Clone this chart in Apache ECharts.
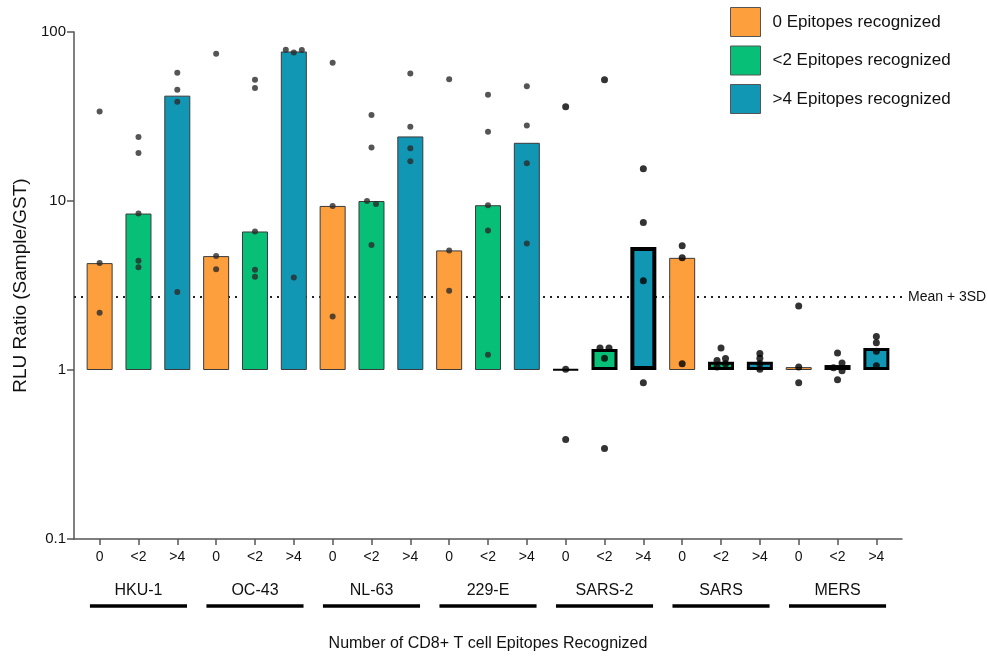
<!DOCTYPE html>
<html>
<head>
<meta charset="utf-8">
<script src="https://cdn.jsdelivr.net/npm/echarts@6/dist/echarts.min.js"></script>
<style>
  html, body { margin: 0; padding: 0; background: #fff; }
  #chart { width: 988px; height: 657px; }
</style>
</head>
<body>
<div id="chart"></div>
<script>
// ---- data ----
const groups = ['HKU-1', 'OC-43', 'NL-63', '229-E', 'SARS-2', 'SARS', 'MERS'];
const levels = ['0', '<2', '>4'];
const legendNames = ['0 Epitopes recognized', '<2 Epitopes recognized', '>4 Epitopes recognized'];

// bar heights (median) per group, one array per epitope level
const bars0 = [4.29, 4.72, 9.35, 5.10, 1.01, 4.61, 1.04];
const bars2 = [8.43, 6.60, 10.0, 9.44, 1.33, 1.12, 1.07];
const bars4 = [42.0, 76.7, 24.1, 22.1, 5.35, 1.12, 1.35];

// individual points per category (group x level, in order)
const points = [
  [33.8, 4.29, 2.18],
  [23.9, 19.2, 8.43, 4.43, 4.06],
  [57.4, 45.6, 38.6, 2.89],
  [74.4, 4.72, 3.94],
  [52.2, 46.7, 6.60, 3.92, 3.56],
  [78.5, 75.7, 78.2, 3.53],
  [65.8, 9.35, 2.07],
  [32.3, 20.7, 10.0, 9.6, 5.5],
  [56.9, 27.5, 20.5, 17.2],
  [52.5, 5.10, 2.94],
  [42.6, 25.7, 9.44, 6.69, 1.23],
  [47.7, 28.0, 16.7, 5.61],
  [36.1, 1.01, 0.388],
  [52.2, 1.35, 1.35, 1.175, 0.343],
  [15.5, 7.46, 3.37, 0.84],
  [5.43, 4.61, 1.09],
  [1.35, 1.14, 1.17, 1.09, 1.04],
  [1.25, 1.175, 1.09, 1.01],
  [2.39, 1.04, 0.84],
  [1.26, 1.10, 1.03, 0.99, 0.875],
  [1.58, 1.45, 1.29, 1.06]
];

const threshold = 2.7; // Mean + 3SD
const yTicks = [0.1, 1, 10, 100];

// ---- styles (not data) ----
const FONT = '"Liberation Sans", Arial, Helvetica, sans-serif';
const colors = ['#FE9F3E', '#08BF77', '#1197B3'];
// horizontal jitter of overlapping dots, in pixels, by category index
const jitter = {5: [-8, 0, 8, 0], 7: [0, 0, -4.5, 4.5, 0], 13: [0, -4.5, 4.5, 0, 0],
                16: [0, -4, 4.5, 4.5, -4], 19: [0, 4.5, -4, 4.5, 0]};
// thick black outlines for highlighted bars, by category index
const thick = {12: 2, 13: 3, 14: 4, 16: 3, 17: 3, 19: 3, 20: 3};

const barSets = [bars0, bars2, bars4];
const nCat = groups.length * levels.length;
const catIdx = [];
for (let i = 0; i < nCat; i++) catIdx.push(i);

const barSeries = barSets.map((arr, L) => ({
  name: legendNames[L],
  type: 'bar',
  barWidth: 26,
  barGap: '-100%',
  z: 2,
  itemStyle: { color: colors[L], borderColor: '#3a3a3a', borderWidth: 1 },
  data: arr.map((v, gi) => {
    const ci = gi * 3 + L;
    const item = { value: [ci, v] };
    if (thick[ci]) item.itemStyle = { borderColor: '#000', borderWidth: thick[ci] };
    return item;
  })
}));

const dotData = [];
points.forEach((arr, ci) => {
  arr.forEach((v, k) => {
    const dx = (jitter[ci] || [])[k] || 0;
    const late = ci >= 12;
    dotData.push({
      value: [ci, v],
      symbolOffset: [dx, 0],
      symbolSize: late ? 7 : 6,
      itemStyle: { color: late ? '#000' : '#2a2a2a' }
    });
  });
});

const chart = echarts.init(document.getElementById('chart'), null, { renderer: 'canvas' });

const option = {
  animation: false,
  backgroundColor: '#fff',
  textStyle: { fontFamily: FONT },
  grid: { left: 74, right: 86, top: 32, bottom: 116, containLabel: false },
  legend: {
    data: legendNames,
    orient: 'vertical',
    left: 730,
    top: 7,
    itemWidth: 30,
    itemHeight: 29,
    itemGap: 8.5,
    icon: 'rect',
    padding: 0,
    itemStyle: { borderColor: '#555', borderWidth: 1 },
    textStyle: { fontSize: 17, color: '#111', fontFamily: FONT, padding: [0, 0, 0, 7] }
  },
  xAxis: {
    type: 'value',
    min: -0.66,
    max: 20.66,
    name: 'Number of CD8+ T cell Epitopes Recognized',
    nameLocation: 'middle',
    nameGap: 97,
    nameTextStyle: { fontSize: 16, color: '#111', fontFamily: FONT },
    splitLine: { show: false },
    axisLine: { show: true, onZero: false, lineStyle: { color: '#555', width: 1.5 } },
    axisTick: { show: true, customValues: catIdx, length: 6, lineStyle: { color: '#555', width: 1.5 } },
    axisLabel: {
      customValues: catIdx,
      margin: 11,
      fontSize: 14,
      color: '#111',
      fontFamily: FONT,
      formatter: v => levels[Math.round(v) % 3]
    }
  },
  yAxis: {
    type: 'log',
    logBase: 10,
    min: 0.1,
    max: 100,
    interval: 1,
    name: 'RLU Ratio (Sample/GST)',
    nameLocation: 'middle',
    nameGap: 44,
    nameTextStyle: { fontSize: 19, color: '#111', fontFamily: FONT },
    splitLine: { show: false },
    minorTick: { show: false },
    axisLine: { show: true, onZero: false, lineStyle: { color: '#555', width: 1.5 } },
    axisTick: { show: true, length: 7, lineStyle: { color: '#555', width: 1.5 } },
    axisLabel: {
      margin: 8,
      fontSize: 15,
      color: '#111',
      fontFamily: FONT,
      formatter: v => {
        const t = yTicks.find(x => Math.abs(x - v) / x < 1e-6);
        return t !== undefined ? String(t) : '';
      }
    }
  },
  series: [
    ...barSeries,
    {
      type: 'line',
      data: [],
      silent: true,
      z: 1,
      markLine: {
        silent: true,
        z: 1,
        symbol: 'none',
        lineStyle: { type: [2, 5], color: '#222', width: 1.8 },
        label: {
          show: true, position: 'end', distance: 6,
          formatter: 'Mean + 3SD', fontSize: 14, color: '#111', fontFamily: FONT
        },
        data: [{ yAxis: threshold }]
      }
    },
    {
      type: 'scatter',
      symbol: 'circle',
      z: 4,
      silent: true,
      data: dotData
    },
    {
      type: 'custom',
      silent: true,
      clip: false,
      z: 5,
      data: groups.map((g, gi) => [gi * 3 + 1, 0.1]),
      renderItem: (params, api) => {
        const x = api.value(0);
        const c = api.coord([x, 0.1]);
        const l = api.coord([x - 1.25, 0.1]);
        const r = api.coord([x + 1.25, 0.1]);
        return {
          type: 'group',
          children: [
            {
              type: 'text',
              style: {
                text: groups[params.dataIndex],
                x: c[0], y: c[1] + 52,
                align: 'center', verticalAlign: 'middle',
                fontSize: 16, fontFamily: FONT, fill: '#111'
              }
            },
            {
              type: 'line',
              shape: { x1: l[0], y1: c[1] + 67, x2: r[0], y2: c[1] + 67 },
              style: { stroke: '#000', lineWidth: 3.5 }
            }
          ]
        };
      }
    }
  ]
};

chart.setOption(option);
</script>
</body>
</html>
